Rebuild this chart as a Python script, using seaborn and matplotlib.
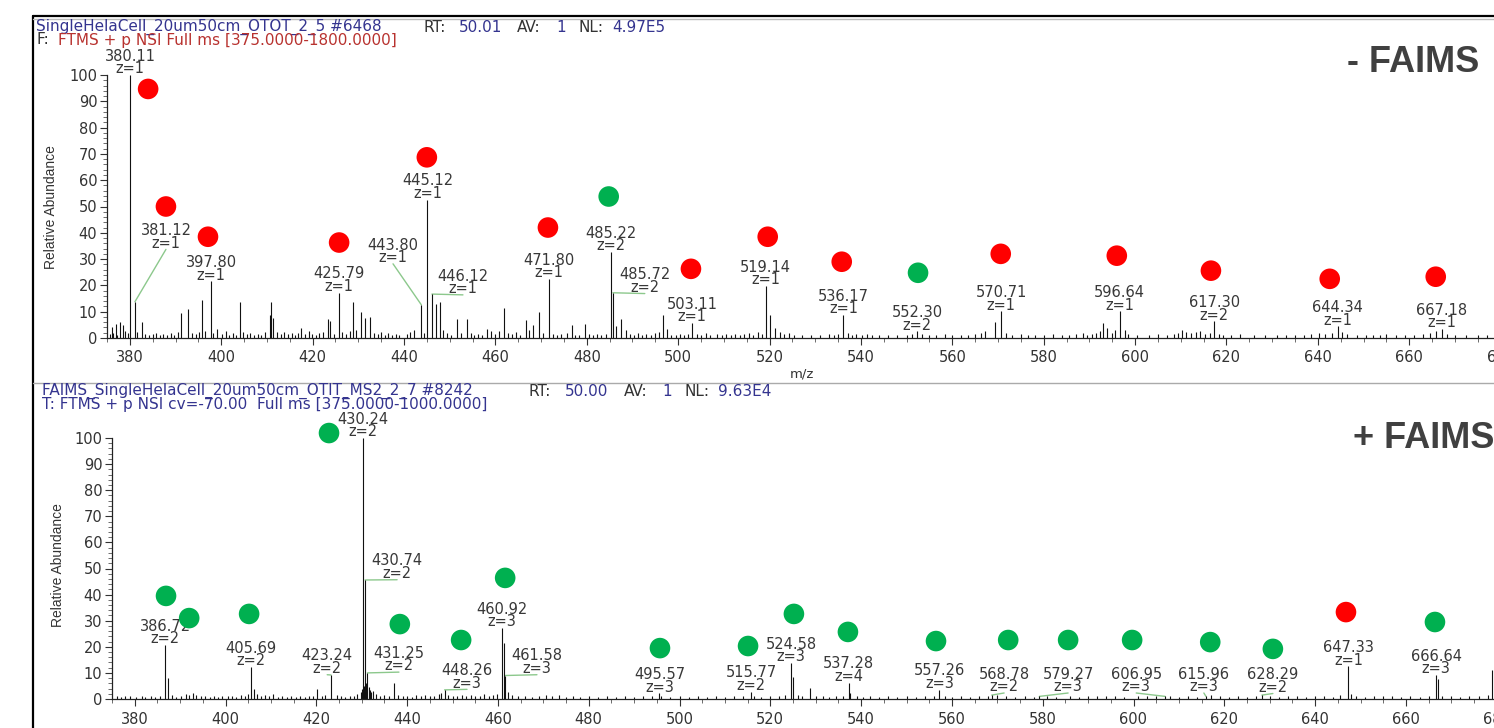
import numpy as np
import pandas as pd
import matplotlib
matplotlib.use("Agg")
import matplotlib.pyplot as plt
from matplotlib.lines import Line2D
from matplotlib.ticker import MultipleLocator
import seaborn as sns

# ---------------- top spectrum: - FAIMS ----------------
top_label_mz = [380.11, 381.12, 397.80, 425.79, 443.80, 445.12, 446.12, 471.80, 485.22,
                485.72, 503.11, 519.14, 536.17, 552.30, 570.71, 596.64, 617.30, 644.34, 667.18]
top_label_int = [100.0, 13.8, 21.5, 17.3, 12.6, 52.6, 16.7, 22.5, 32.8,
                 17.2, 5.7, 19.8, 8.8, 2.5, 10.2, 10.2, 6.3, 4.4, 3.4]
top_label_z = [1, 1, 1, 1, 1, 1, 1, 1, 2, 2, 1, 1, 1, 2, 1, 1, 2, 1, 1]

top_other_mz = [376.0, 376.9, 377.8, 378.5, 382.6, 391.2, 392.7, 395.9, 399.0, 404.0, 410.6, 410.9,
                411.4, 417.5, 423.3, 423.9, 428.8, 430.5, 431.5, 432.6, 447.1, 447.8, 451.7, 453.7,
                458.2, 461.9, 466.6, 468.3, 469.6, 476.7, 479.6, 487.6, 496.7, 520.1, 521.1, 569.3,
                593.0, 593.8, 597.7, 610.2, 614.2, 665.8,
                375.6, 376.4, 377.2, 379.0, 379.6, 381.6, 383.4, 384.1, 385.0, 385.8, 386.5, 387.3,
                388.2, 389.0, 389.7, 390.5, 393.6, 394.4, 395.2, 396.5, 398.3, 400.2, 401.0, 401.8,
                402.6, 403.3, 404.7, 405.6, 406.4, 407.2, 408.0, 408.8, 409.5, 412.2, 413.0, 413.8,
                414.6, 415.4, 416.2, 416.9, 418.3, 419.1, 419.9, 420.7, 421.4, 422.2, 424.6, 426.5,
                427.3, 428.1, 429.5, 433.4, 434.3, 435.0, 435.8, 436.6, 437.4, 438.2, 439.0, 440.6,
                441.4, 442.2, 444.4, 448.6, 449.5, 450.3, 452.5, 454.6, 455.4, 456.2, 457.0, 459.1,
                460.0, 460.8, 462.8, 463.7, 464.5, 465.3, 467.4, 470.5, 472.6, 473.5, 474.4, 475.6,
                477.5, 478.4, 480.5, 481.4, 482.3, 483.2, 484.2, 486.5, 488.5, 489.4, 490.3, 491.2,
                492.0, 493.0, 494.0, 494.9, 495.8, 497.6, 498.5, 499.5, 500.4, 501.3, 502.2, 504.2,
                505.0, 506.0, 507.0, 508.5, 509.5, 510.5, 511.5, 512.5, 513.5, 514.5, 515.5, 516.4,
                517.5, 518.3, 522.2, 523.1, 524.2, 525.3, 527.0, 529.0, 531.0, 533.0, 534.0, 535.0,
                537.2, 538.0, 539.0, 540.2, 541.3, 542.5, 544.0, 546.0, 548.0, 550.0, 551.2, 553.3,
                555.0, 556.5, 558.5, 560.0, 562.0, 563.5, 565.0, 566.2, 567.2, 571.7, 573.0, 575.0,
                576.5, 578.0, 580.0, 582.0, 584.0, 585.5, 587.0, 588.5, 589.5, 590.5, 591.5, 592.3,
                595.0, 595.7, 598.4, 600.5, 603.0, 605.0, 607.0, 608.5, 609.5, 611.2, 612.3, 613.3,
                615.2, 616.3, 618.3, 619.3, 621.0, 623.0, 626.0, 628.5, 631.0, 633.0, 635.0, 637.0,
                638.5, 640.2, 641.5, 643.2, 645.3, 646.3, 648.5, 650.5, 652.0, 653.5, 655.0, 657.0,
                659.0, 661.0, 663.0, 664.6, 668.2, 670.0, 672.5, 675.0, 677.0, 679.0, 681.0, 683.0]
top_other_int = [4.2, 5.5, 6.0, 4.8, 5.9, 9.5, 11.0, 14.4, 3.6, 13.7, 8.9, 13.7,
                 7.5, 3.8, 7.1, 6.4, 13.7, 9.9, 7.6, 8.0, 13.1, 13.7, 7.1, 7.1,
                 3.6, 11.5, 7.0, 5.1, 9.9, 5.1, 5.3, 7.4, 8.7, 8.9, 3.8, 5.9,
                 5.7, 3.8, 3.2, 3.2, 2.5, 2.5,
                 1.5, 2.0, 1.2, 2.5, 1.8, 2.2, 1.5, 1.0, 1.4, 2.0, 1.2, 1.6,
                 1.1, 1.8, 1.3, 2.2, 2.0, 1.5, 2.4, 2.6, 2.0, 1.6, 2.6, 1.3,
                 1.8, 1.1, 2.2, 1.4, 2.0, 1.2, 1.7, 1.0, 2.1, 2.4, 1.5, 2.2,
                 1.4, 1.9, 1.2, 2.0, 1.5, 2.8, 1.6, 1.2, 1.8, 2.4, 1.7, 2.2,
                 1.5, 2.6, 3.0, 2.0, 1.6, 2.2, 1.2, 1.8, 1.1, 1.6, 1.0, 1.5,
                 2.4, 3.0, 1.8, 3.2, 1.8, 1.3, 1.8, 2.0, 1.2, 1.6, 1.0, 2.5,
                 1.4, 2.8, 2.0, 1.5, 2.2, 1.0, 3.0, 2.0, 1.5, 1.0, 1.6, 2.0,
                 1.3, 1.1, 1.6, 1.2, 1.7, 1.0, 1.4, 4.5, 3.0, 1.7, 1.2, 1.9,
                 1.0, 1.5, 1.2, 1.8, 2.2, 3.5, 1.2, 1.0, 1.5, 1.2, 1.6, 1.5,
                 1.1, 1.8, 1.0, 1.4, 1.2, 1.5, 1.0, 1.7, 1.2, 1.6, 2.0, 1.2,
                 2.4, 1.5, 2.2, 1.5, 1.8, 1.2, 1.0, 1.3, 1.0, 1.4, 1.2, 1.6,
                 1.8, 1.2, 1.6, 1.0, 1.4, 1.0, 1.2, 1.0, 1.3, 1.0, 1.5, 1.4,
                 1.2, 1.0, 1.4, 1.0, 1.2, 1.0, 1.5, 2.0, 2.8, 2.0, 1.2, 1.4,
                 1.0, 1.2, 1.0, 1.4, 1.2, 1.0, 1.5, 1.8, 1.3, 1.6, 2.0, 2.5,
                 2.0, 3.0, 1.5, 1.2, 1.0, 1.4, 1.2, 1.6, 2.0, 2.4, 1.8, 2.2,
                 1.5, 2.0, 1.6, 1.2, 1.0, 1.4, 1.0, 1.3, 1.0, 1.2, 1.0, 1.3,
                 1.6, 1.8, 1.4, 2.0, 2.2, 1.5, 1.0, 1.3, 1.0, 1.2, 1.4, 1.0,
                 1.3, 1.0, 1.5, 1.8, 1.5, 1.0, 1.2, 1.0, 1.3, 1.6, 1.0, 1.2]

top_dot_mz = [384.0, 387.9, 397.1, 425.8, 445.0, 471.5, 484.8, 502.8, 519.6, 535.8,
              552.5, 570.6, 596.0, 616.6, 642.6, 665.8]
top_dot_y = [94.7, 50.0, 38.5, 36.3, 68.7, 42.0, 53.8, 26.3, 38.5, 29.0,
             24.8, 32.0, 31.3, 25.6, 22.5, 23.3]
top_dot_kind = ["red", "red", "red", "red", "red", "red", "green", "red", "red", "red",
                "green", "red", "red", "red", "red", "red"]

# ---------------- bottom spectrum: + FAIMS ----------------
bot_label_mz = [386.72, 405.69, 423.24, 430.24, 430.74, 431.25, 448.26, 460.92, 461.58, 495.57,
                515.77, 524.58, 537.28, 557.26, 568.78, 579.27, 606.95, 615.96, 628.29, 647.33, 666.64]
bot_label_int = [20.7, 12.3, 9.2, 100.0, 45.6, 10.0, 3.5, 27.2, 9.0, 2.2,
                 2.8, 13.8, 6.3, 3.6, 1.5, 1.0, 1.0, 1.0, 1.5, 12.5, 9.2]
bot_label_z = [2, 2, 2, 2, 2, 2, 3, 3, 3, 3, 2, 3, 4, 3, 2, 3, 3, 3, 2, 1, 3]

bot_other_mz = [387.4, 406.3, 420.2, 429.8, 430.1, 430.5, 430.9, 431.5, 431.8, 432.0, 432.5, 437.2,
                461.25, 462.3, 524.92, 528.8, 537.6, 647.8, 666.97, 679.0,
                376.0, 377.0, 377.8, 379.0, 380.2, 381.5, 382.3, 383.5, 384.5, 385.5, 388.3, 389.2,
                390.2, 391.3, 392.0, 392.8, 393.6, 394.5, 395.4, 396.5, 397.4, 398.3, 399.2, 400.5,
                401.5, 402.4, 403.4, 404.3, 405.0, 407.0, 407.8, 408.6, 409.5, 410.5, 411.5, 412.5,
                413.5, 414.5, 415.5, 416.5, 417.5, 418.4, 419.3, 421.2, 422.0, 424.5, 425.5, 426.4,
                427.4, 428.3, 428.9, 433.2, 434.0, 435.0, 436.0, 438.0, 439.0, 440.0, 441.0, 442.0,
                443.0, 444.0, 445.0, 446.0, 447.0, 447.5, 449.0, 450.0, 451.0, 452.0, 453.0, 454.0,
                455.0, 456.0, 457.0, 458.0, 459.0, 459.8, 463.2, 464.5, 466.0, 467.5, 469.0, 470.5,
                472.0, 473.5, 475.0, 476.5, 478.0, 480.0, 482.0, 484.0, 486.0, 488.0, 490.0, 492.0,
                494.0, 496.0, 498.0, 500.0, 502.0, 504.0, 506.0, 508.0, 510.0, 512.0, 514.0, 516.5,
                518.0, 520.0, 522.0, 523.2, 526.0, 527.0, 530.0, 531.5, 533.0, 534.5, 536.0, 539.0,
                540.5, 542.0, 544.0, 546.0, 548.0, 550.0, 552.0, 554.0, 556.0, 558.5, 560.0, 562.0,
                564.0, 566.0, 568.0, 570.0, 572.0, 574.0, 576.0, 578.0, 581.0, 583.0, 586.0, 588.0,
                590.0, 592.0, 594.0, 596.0, 598.0, 601.0, 603.0, 605.0, 608.0, 610.0, 612.0, 614.0,
                617.0, 619.0, 621.0, 623.0, 625.0, 627.0, 630.0, 632.0, 634.0, 636.0, 638.0, 640.0,
                642.0, 644.0, 645.5, 649.0, 651.0, 653.0, 655.0, 657.0, 659.0, 661.0, 663.0, 665.0,
                668.0, 670.0, 672.0, 674.0, 676.0, 678.0, 681.0]
bot_other_int = [7.9, 4.0, 3.7, 2.5, 4.0, 5.0, 6.0, 4.5, 3.4, 2.5, 3.0, 6.0,
                 21.5, 2.8, 8.6, 4.1, 2.2, 2.0, 7.5, 11.0,
                 1.0, 0.8, 1.2, 1.0, 0.8, 1.0, 0.7, 1.2, 0.8, 1.0, 1.5, 0.8,
                 1.0, 2.0, 1.4, 2.2, 1.6, 1.0, 1.2, 0.8, 1.0, 0.8, 1.2, 1.0,
                 1.3, 0.9, 1.6, 1.2, 2.0, 1.8, 1.0, 1.4, 1.2, 1.8, 0.8, 1.0,
                 0.7, 1.2, 0.8, 1.1, 0.9, 1.3, 1.0, 1.2, 1.5, 1.6, 1.0, 0.8,
                 1.2, 1.0, 1.8, 1.8, 1.2, 1.5, 1.0, 1.4, 1.0, 1.2, 0.8, 1.4,
                 1.0, 1.6, 1.2, 1.0, 1.8, 2.2, 1.5, 1.0, 1.2, 1.6, 1.0, 1.4,
                 1.0, 1.2, 1.8, 1.0, 1.4, 2.0, 1.5, 1.0, 1.2, 0.8, 1.0, 1.4,
                 1.2, 1.6, 0.8, 1.0, 0.8, 1.0, 0.8, 1.2, 0.9, 1.0, 0.8, 1.1,
                 1.0, 1.2, 0.8, 1.0, 0.9, 1.1, 0.8, 1.0, 0.8, 1.2, 1.0, 1.2,
                 0.8, 1.0, 1.2, 1.5, 1.6, 1.2, 1.0, 1.3, 0.9, 1.0, 1.2, 1.0,
                 0.8, 1.1, 0.9, 1.0, 0.8, 1.0, 0.8, 1.1, 1.0, 1.2, 0.8, 1.0,
                 0.9, 1.0, 1.1, 1.4, 1.2, 0.9, 1.0, 0.8, 1.0, 0.8, 1.1, 0.9,
                 1.0, 1.3, 1.0, 1.2, 0.9, 1.0, 1.2, 1.0, 1.3, 0.9, 1.0, 0.8,
                 1.4, 1.0, 0.8, 1.0, 0.9, 1.2, 1.0, 0.8, 1.0, 1.1, 0.9, 1.0,
                 1.2, 0.9, 1.4, 1.0, 0.8, 1.1, 1.0, 1.2, 0.9, 1.0, 0.8, 1.2,
                 1.3, 1.0, 0.8, 1.1, 1.0, 1.4, 1.0]

bot_dot_mz = [422.8, 386.9, 392.0, 405.2, 438.4, 451.9, 461.6, 495.7, 515.1, 525.2,
              537.1, 556.5, 572.4, 585.6, 599.7, 616.9, 630.7, 646.8, 666.4]
bot_dot_y = [101.9, 39.5, 31.0, 32.6, 28.7, 22.6, 46.4, 19.5, 20.3, 32.6,
             25.7, 22.2, 22.6, 22.6, 22.6, 21.8, 19.2, 33.3, 29.5]
bot_dot_kind = ["green"] * 17 + ["red", "green"]

# label anchors (m/z, abundance) for peaks whose labels sit beside the stick
top_label_shift = {381.12: (387.9, 34.0), 443.80: (437.6, 28.5),
                   446.12: (452.9, 16.7), 485.72: (492.7, 17.2)}
bot_label_shift = {423.24: (422.4, 9.6), 430.74: (437.8, 46.0), 431.25: (438.2, 10.6),
                   448.26: (453.2, 4.0), 461.58: (468.6, 9.6), 568.78: (571.5, 2.6),
                   579.27: (585.6, 2.6), 606.95: (600.6, 2.6), 615.96: (615.5, 2.6),
                   628.29: (630.7, 2.4)}

# ---------------- styling ----------------
W, H = 1494, 728
sns.set_theme(style="ticks")
plt.rcParams["font.family"] = ["DejaVu Sans"]

STICK = "#111111"
LEADER = "#8cc88c"
LABEL_COLOR = "#383838"
HEAD_BLUE = "#34348f"
HEAD_RED = "#b8322f"
HEAD_DARK = "#333333"
DOT_PALETTE = {"red": "#ff0000", "green": "#00b050"}
LABEL_KW = dict(ha="center", va="bottom", fontsize=10.5, color=LABEL_COLOR,
                linespacing=0.8, annotation_clip=False, zorder=3)

fig = plt.figure(figsize=(W / 100, H / 100), dpi=100)
fig.patch.set_facecolor("white")


def px_axes(left, bottom_px, top_px, width_px):
    return fig.add_axes([left / W, (H - bottom_px) / H, width_px / W, (bottom_px - top_px) / H])


ax_top = px_axes(107, 338, 75, 1485)
ax_bot = px_axes(112, 699, 438, 1475.5)


def draw_panel(ax, lab_mz, lab_int, lab_z, oth_mz, oth_int, dot_mz, dot_y, dot_kind, shifts):
    ax.set_xlim(375, 700)
    ax.set_ylim(0, 100)
    mz = np.concatenate([oth_mz, lab_mz])
    inten = np.concatenate([oth_int, lab_int])
    ax.vlines(mz, 0, inten, colors=STICK, linewidth=0.8, zorder=2)

    for m, i, z in zip(lab_mz, lab_int, lab_z):
        txt = f"{m:.2f}\nz={z}"
        if m in shifts:
            lx, ly = shifts[m]
            ax.plot([m, lx], [i, ly - 0.3], color=LEADER, linewidth=1.0, zorder=1, clip_on=False)
            ax.annotate(txt, (lx, ly), xytext=(0, -1.5), textcoords="offset points", **LABEL_KW)
        else:
            ax.annotate(txt, (m, i), xytext=(0, -1), textcoords="offset points", **LABEL_KW)

    dots = pd.DataFrame({"mz": dot_mz, "y": dot_y, "kind": dot_kind})
    sns.scatterplot(data=dots, x="mz", y="y", hue="kind", palette=DOT_PALETTE, s=220,
                    linewidth=0, legend=False, ax=ax, clip_on=False, zorder=6)

    sns.despine(ax=ax, top=True, right=True)
    for side in ("left", "bottom"):
        ax.spines[side].set_color("#222222")
        ax.spines[side].set_linewidth(0.9)
    ax.xaxis.set_major_locator(MultipleLocator(20))
    ax.xaxis.set_minor_locator(MultipleLocator(5))
    ax.yaxis.set_major_locator(MultipleLocator(10))
    ax.yaxis.set_minor_locator(MultipleLocator(2))
    ax.tick_params(which="major", direction="out", length=5, width=0.8, color="#333333",
                   labelsize=10.5, labelcolor="#333333", pad=2)
    ax.tick_params(which="minor", direction="out", length=3, width=0.6, color="#555555")
    ax.tick_params(axis="x", which="major", pad=4)
    ax.set_xlabel("m/z", fontsize=9.5, color="#333333")
    ax.set_ylabel("Relative Abundance", fontsize=10, color="#333333",
                  family=["Liberation Sans Narrow", "Liberation Sans"])
    ax.set_facecolor("white")


draw_panel(ax_top, top_label_mz, top_label_int, top_label_z, top_other_mz, top_other_int,
           top_dot_mz, top_dot_y, top_dot_kind, top_label_shift)
draw_panel(ax_bot, bot_label_mz, bot_label_int, bot_label_z, bot_other_mz, bot_other_int,
           bot_dot_mz, bot_dot_y, bot_dot_kind, bot_label_shift)

ax_top.xaxis.set_label_coords(0.468, -0.114)
ax_top.yaxis.set_label_coords(-0.033, 0.498)
ax_bot.xaxis.set_label_coords(0.4697, -0.107)
ax_bot.yaxis.set_label_coords(-0.032, 0.513)


# ---------------- scan headers ----------------
def head(x, y, s, color, size=11):
    fig.text(x / W, 1 - y / H, s, color=color, fontsize=size, ha="left", va="center")


head(36, 27, "SingleHelaCell_20um50cm_OTOT_2_5 #6468", HEAD_BLUE)
head(423, 27, "RT:", HEAD_DARK)
head(459, 27, "50.01", HEAD_BLUE)
head(517, 27, "AV:", HEAD_DARK)
head(556, 27, "1", HEAD_BLUE)
head(579, 27, "NL:", HEAD_DARK)
head(612, 27, "4.97E5", HEAD_BLUE)
head(36, 40, "F:", HEAD_DARK)
head(58, 40, "FTMS + p NSI Full ms [375.0000-1800.0000]", HEAD_RED)

head(42, 391, "FAIMS_SingleHelaCell_20um50cm_OTIT_MS2_2_7 #8242", HEAD_BLUE)
head(529, 391, "RT:", HEAD_DARK)
head(565, 391, "50.00", HEAD_BLUE)
head(624, 391, "AV:", HEAD_DARK)
head(662, 391, "1", HEAD_BLUE)
head(684, 391, "NL:", HEAD_DARK)
head(718, 391, "9.63E4", HEAD_BLUE)
head(42, 404, "T: FTMS + p NSI cv=-70.00  Full ms [375.0000-1000.0000]", HEAD_BLUE)

# condition tags
fig.text(1347 / W, 1 - 63 / H, "- FAIMS", fontsize=26, fontweight="bold", color="#404040",
         family=["Liberation Sans", "DejaVu Sans"], ha="left", va="center")
fig.text(1353 / W, 1 - 439 / H, "+ FAIMS", fontsize=26, fontweight="bold", color="#404040",
         family=["Liberation Sans", "DejaVu Sans"], ha="left", va="center")

# window frame lines
fig.add_artist(Line2D([33 / W, 33 / W], [0, 1 - 16 / H], color="black", linewidth=1.6))
fig.add_artist(Line2D([33 / W, 1], [1 - 16 / H, 1 - 16 / H], color="black", linewidth=1.6))
fig.add_artist(Line2D([33 / W, 1], [1 - 18.5 / H, 1 - 18.5 / H], color="#bbbbbb", linewidth=1.0))
fig.add_artist(Line2D([33 / W, 1], [1 - 383 / H, 1 - 383 / H], color="#aaaaaa", linewidth=1.0))

fig.savefig("out.png", dpi=100, facecolor="white")
